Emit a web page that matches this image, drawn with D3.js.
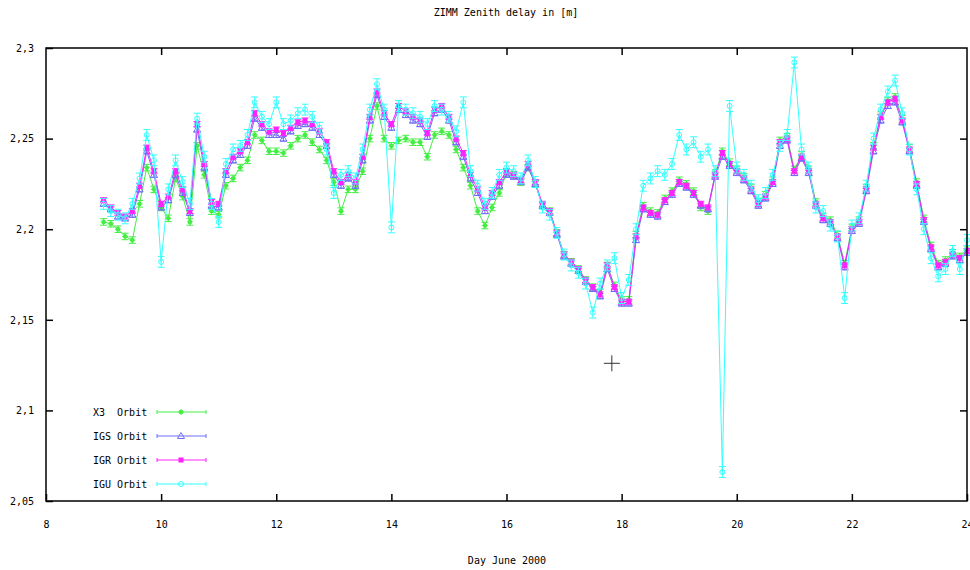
<!DOCTYPE html>
<html>
<head>
<meta charset="utf-8">
<script src="https://cdn.jsdelivr.net/npm/d3@7"></script>
<style>
body { margin: 0; background: #fff; }
text { font-family: "DejaVu Sans Mono", monospace; font-size: 10px; fill: #000; }
</style>
</head>
<body>
<svg width="970" height="570"></svg>
<script>
// sample times (day of June 2000), every 3 hours
var days = [9, 9.125, 9.25, 9.375, 9.5, 9.625, 9.75, 9.875, 10, 10.125,
	10.25, 10.375, 10.5, 10.625, 10.75, 10.875, 11, 11.125, 11.25, 11.375,
	11.5, 11.625, 11.75, 11.875, 12, 12.125, 12.25, 12.375, 12.5, 12.625,
	12.75, 12.875, 13, 13.125, 13.25, 13.375, 13.5, 13.625, 13.75, 13.875,
	14, 14.125, 14.25, 14.375, 14.5, 14.625, 14.75, 14.875, 15, 15.125,
	15.25, 15.375, 15.5, 15.625, 15.75, 15.875, 16, 16.125, 16.25, 16.375,
	16.5, 16.625, 16.75, 16.875, 17, 17.125, 17.25, 17.375, 17.5, 17.625,
	17.75, 17.875, 18, 18.125, 18.25, 18.375, 18.5, 18.625, 18.75, 18.875,
	19, 19.125, 19.25, 19.375, 19.5, 19.625, 19.75, 19.875, 20, 20.125,
	20.25, 20.375, 20.5, 20.625, 20.75, 20.875, 21, 21.125, 21.25, 21.375,
	21.5, 21.625, 21.75, 21.875, 22, 22.125, 22.25, 22.375, 22.5, 22.625,
	22.75, 22.875, 23, 23.125, 23.25, 23.375, 23.5, 23.625, 23.75, 23.875, 24];

var x3 = [2.204, 2.203, 2.200, 2.196, 2.194, 2.214, 2.234, 2.222, 2.212, 2.206,
	2.228, 2.218, 2.204, 2.246, 2.230, 2.210, 2.208, 2.224, 2.228, 2.234,
	2.238, 2.252, 2.249, 2.243, 2.243, 2.242, 2.246, 2.250, 2.252, 2.248,
	2.244, 2.238, 2.226, 2.210, 2.222, 2.222, 2.232, 2.250, 2.268, 2.250,
	2.246, 2.249, 2.250, 2.248, 2.248, 2.240, 2.252, 2.254, 2.252, 2.244,
	2.234, 2.224, 2.210, 2.202, 2.212, 2.220, 2.231, 2.230, 2.226, 2.234,
	2.225, 2.213, 2.210, 2.198, 2.186, 2.182, 2.178, 2.172, 2.168, 2.165,
	2.180, 2.169, 2.161, 2.161, 2.197, 2.213, 2.210, 2.209, 2.217, 2.221,
	2.227, 2.225, 2.221, 2.212, 2.210, 2.231, 2.243, 2.237, 2.233, 2.229,
	2.223, 2.215, 2.219, 2.227, 2.249, 2.251, 2.233, 2.241, 2.233, 2.215,
	2.207, 2.205, 2.197, 2.181, 2.201, 2.205, 2.223, 2.246, 2.263, 2.271,
	2.273, 2.261, 2.245, 2.226, 2.206, 2.191, 2.181, 2.183, 2.187, 2.185, 2.189];

var igs = [2.214, 2.211, 2.207, 2.206, 2.208, 2.222, 2.243, 2.230, 2.212, 2.216,
	2.230, 2.220, 2.209, 2.255, 2.234, 2.213, 2.212, 2.230, 2.238, 2.241,
	2.246, 2.261, 2.256, 2.252, 2.252, 2.250, 2.254, 2.257, 2.258, 2.256,
	2.252, 2.246, 2.230, 2.224, 2.228, 2.224, 2.238, 2.260, 2.274, 2.262,
	2.256, 2.266, 2.263, 2.260, 2.258, 2.251, 2.264, 2.266, 2.260, 2.248,
	2.240, 2.228, 2.220, 2.210, 2.218, 2.224, 2.230, 2.229, 2.226, 2.234,
	2.225, 2.213, 2.209, 2.197, 2.185, 2.181, 2.177, 2.171, 2.167, 2.163,
	2.178, 2.167, 2.159, 2.159, 2.194, 2.211, 2.208, 2.207, 2.215, 2.219,
	2.225, 2.223, 2.219, 2.213, 2.211, 2.229, 2.240, 2.235, 2.231, 2.227,
	2.221, 2.213, 2.217, 2.225, 2.246, 2.249, 2.231, 2.239, 2.231, 2.213,
	2.205, 2.203, 2.195, 2.179, 2.199, 2.203, 2.221, 2.243, 2.260, 2.268,
	2.270, 2.259, 2.243, 2.224, 2.204, 2.189, 2.179, 2.181, 2.185, 2.183, 2.187];

var igr = [2.216, 2.212, 2.209, 2.207, 2.210, 2.224, 2.245, 2.232, 2.214, 2.218,
	2.232, 2.222, 2.210, 2.258, 2.236, 2.215, 2.214, 2.232, 2.240, 2.243,
	2.248, 2.264, 2.258, 2.254, 2.255, 2.253, 2.256, 2.259, 2.260, 2.258,
	2.254, 2.248, 2.232, 2.226, 2.230, 2.226, 2.240, 2.262, 2.276, 2.264,
	2.258, 2.268, 2.265, 2.262, 2.260, 2.253, 2.266, 2.268, 2.262, 2.250,
	2.242, 2.230, 2.222, 2.212, 2.220, 2.226, 2.232, 2.230, 2.227, 2.236,
	2.226, 2.214, 2.210, 2.198, 2.186, 2.182, 2.178, 2.172, 2.168, 2.164,
	2.180, 2.168, 2.160, 2.160, 2.196, 2.212, 2.209, 2.208, 2.216, 2.220,
	2.226, 2.224, 2.220, 2.214, 2.212, 2.230, 2.242, 2.236, 2.232, 2.228,
	2.222, 2.214, 2.218, 2.226, 2.248, 2.250, 2.232, 2.240, 2.232, 2.214,
	2.206, 2.204, 2.196, 2.180, 2.200, 2.204, 2.222, 2.245, 2.262, 2.270,
	2.272, 2.260, 2.244, 2.225, 2.205, 2.190, 2.180, 2.182, 2.186, 2.184, 2.188];

var igu = [2.214, 2.210, 2.208, 2.206, 2.214, 2.228, 2.252, 2.238, 2.182, 2.222,
	2.238, 2.226, 2.214, 2.261, 2.240, 2.214, 2.204, 2.236, 2.244, 2.246,
	2.252, 2.270, 2.262, 2.258, 2.270, 2.258, 2.260, 2.264, 2.266, 2.262,
	2.256, 2.244, 2.220, 2.230, 2.232, 2.228, 2.244, 2.266, 2.280, 2.266,
	2.201, 2.268, 2.266, 2.264, 2.262, 2.258, 2.268, 2.266, 2.262, 2.254,
	2.270, 2.232, 2.224, 2.214, 2.220, 2.230, 2.234, 2.232, 2.228, 2.238,
	2.226, 2.212, 2.208, 2.198, 2.186, 2.180, 2.176, 2.170, 2.154, 2.170,
	2.180, 2.184, 2.162, 2.172, 2.200, 2.224, 2.228, 2.232, 2.230, 2.236,
	2.252, 2.244, 2.248, 2.240, 2.244, 2.232, 2.066, 2.268, 2.234, 2.230,
	2.224, 2.216, 2.220, 2.230, 2.246, 2.252, 2.292, 2.244, 2.234, 2.212,
	2.210, 2.202, 2.196, 2.162, 2.202, 2.206, 2.224, 2.250, 2.266, 2.276,
	2.282, 2.264, 2.244, 2.222, 2.200, 2.184, 2.174, 2.178, 2.188, 2.178, 2.194];

var seriesNames = ["X3  Orbit", "IGS Orbit", "IGR Orbit", "IGU Orbit"];
var seriesValues = [x3, igs, igr, igu];
var seriesErrors = [0.0018, 0.0014, 0.0014, 0.003]; // half length of the error bars
var seriesColors = ["#44ee44", "#6f6ff8", "#ff22ff", "#33ffff"];
var seriesMarks = ["plus", "triangle", "square", "circle"];

var xTicks = [8, 10, 12, 14, 16, 18, 20, 22, 24];
var yTicks = [2.05, 2.1, 2.15, 2.2, 2.25, 2.3];
var cursorPos = [17.83, 2.126]; // mouse crosshair left in the screenshot

var svg = d3.select("svg"),
	margin = {top: 48, right: 3, bottom: 69, left: 46},
	width = +svg.attr("width") - margin.left - margin.right,
	height = +svg.attr("height") - margin.top - margin.bottom;

var x = d3.scaleLinear().domain([8, 24]).range([0, width]);
var y = d3.scaleLinear().domain([2.05, 2.3]).range([height, 0]);

var g = svg.append("g").attr("transform", "translate(" + margin.left + "," + margin.top + ")");

var fmt = function(d) { return String(+d.toFixed(2)).replace(".", ","); };

// axes, ticks pointing inwards on all four sides
g.append("g")
	.attr("transform", "translate(0," + height + ")")
	.call(d3.axisBottom(x).tickValues(xTicks).tickSize(-7).tickPadding(20).tickFormat(d3.format("d")));
g.append("g")
	.call(d3.axisTop(x).tickValues(xTicks.slice(1, -1)).tickSize(-7).tickFormat(""));
g.append("g")
	.call(d3.axisLeft(y).tickValues(yTicks).tickSize(-7).tickPadding(12).tickFormat(fmt));
g.append("g")
	.attr("transform", "translate(" + width + ",0)")
	.call(d3.axisRight(y).tickValues(yTicks.slice(1, -1)).tickSize(-7).tickFormat(""));

g.selectAll(".domain").remove();
g.selectAll(".tick line").attr("stroke", "#000").attr("stroke-width", 1.5);
g.selectAll(".tick text").style("font-family", "DejaVu Sans Mono").style("font-size", "10px");

var line = d3.line()
	.x(function(d) { return x(d.day); })
	.y(function(d) { return y(d.value); });

function drawMark(sel, type, color) {
	if (type == "plus") {
		sel.append("path").attr("d", "M-3,0H3M0,-3V3M-1.5,-1.5H1.5V1.5H-1.5Z").attr("stroke", color).attr("fill", color);
	} else if (type == "triangle") {
		sel.append("path").attr("d", "M-3.5,2.5L0,-3.5L3.5,2.5Z").attr("stroke", color).attr("fill", "none");
	} else if (type == "square") {
		sel.append("rect").attr("x", -2.5).attr("y", -2.5).attr("width", 5).attr("height", 5).attr("fill", color);
	} else {
		sel.append("circle").attr("r", 2.5).attr("stroke", color).attr("fill", "none");
	}
}

var plot = g.append("g").attr("class", "series");

seriesValues.forEach(function(values, k) {
	var color = seriesColors[k],
		err = seriesErrors[k];
	var data = days.map(function(d, i) { return {day: d, value: values[i]}; });

	var s = plot.append("g");

	s.append("path")
		.datum(data)
		.attr("fill", "none")
		.attr("stroke", color)
		.attr("stroke-width", 1)
		.attr("d", line);

	var pt = s.selectAll("g")
		.data(data)
		.enter().append("g")
		.attr("transform", function(d) { return "translate(" + x(d.day) + "," + y(d.value) + ")"; });

	// error bar with caps
	pt.append("path")
		.attr("fill", "none")
		.attr("stroke", color)
		.attr("d", function(d) {
			var t = y(d.value + err) - y(d.value),
				b = y(d.value - err) - y(d.value);
			return "M0," + t + "V" + b + "M-3.5," + t + "H3.5M-3.5," + b + "H3.5";
		});

	pt.each(function() { drawMark(d3.select(this), seriesMarks[k], color); });
});

// frame
g.append("rect")
	.attr("width", width)
	.attr("height", height)
	.attr("fill", "none")
	.attr("stroke", "#000")
	.attr("stroke-width", 1.5);

// legend
var legend = g.append("g")
	.selectAll("g")
	.data(seriesNames)
	.enter().append("g")
	.attr("transform", function(d, i) { return "translate(0," + (364 + i * 24) + ")"; });

legend.append("text")
	.attr("x", 47)
	.attr("dy", "0.35em")
	.style("white-space", "pre")
	.text(function(d) { return d; });

legend.append("path")
	.attr("fill", "none")
	.attr("stroke", function(d, i) { return seriesColors[i]; })
	.attr("d", "M111,0H160M111,-2V2M160,-2V2");

legend.each(function(d, i) {
	var m = d3.select(this).append("g").attr("transform", "translate(135,0)");
	drawMark(m, seriesMarks[i], seriesColors[i]);
});

// crosshair cursor
g.append("path")
	.attr("transform", "translate(" + x(cursorPos[0]) + "," + y(cursorPos[1]) + ")")
	.attr("stroke", "#333")
	.attr("fill", "none")
	.attr("d", "M-8,0H8M0,-8V8");

// titles
svg.append("text")
	.attr("x", 506)
	.attr("y", 16)
	.attr("text-anchor", "middle")
	.text("ZIMM Zenith delay in [m]");

svg.append("text")
	.attr("x", 507)
	.attr("y", 564)
	.attr("text-anchor", "middle")
	.text("Day June 2000");
</script>
</body>
</html>
